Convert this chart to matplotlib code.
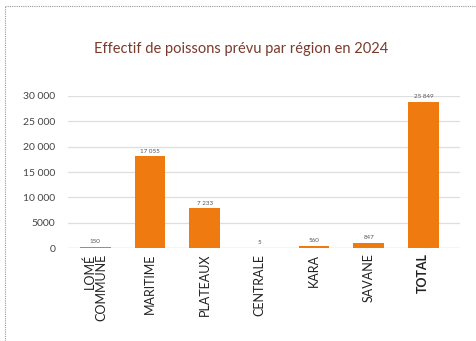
import matplotlib
matplotlib.use("Agg")
import matplotlib.pyplot as plt
from matplotlib.lines import Line2D

categories = ["LOMÉ\nCOMMUNE", "MARITIME", "PLATEAUX", "CENTRALE", "KARA", "SAVANE", "TOTAL"]
bar_values = [260, 18100, 7800, 60, 450, 1000, 28900]
value_labels = ["150", "17 055", "7 233", "5", "560", "847", "25 849"]
yticks = [0, 5000, 10000, 15000, 20000, 25000, 30000]
ytick_labels = ["0", "5000", "10 000", "15 000", "20 000", "25 000", "30 000"]
title = "Effectif de poissons prévu par région en 2024"

plt.rcParams['font.family'] = ['Lato', 'DejaVu Sans']

fig = plt.figure(figsize=(4.76, 3.41), dpi=100)
ax = fig.add_axes([68/476, 1 - 248/341, (460-68)/476, (248-96)/341])

orange = "#ee7a10"
x = list(range(len(categories)))
ax.bar(x, bar_values, width=0.56, color=orange, zorder=3)
for xi, v, lab in zip(x, bar_values, value_labels):
    ax.text(xi, v + 500, lab, ha="center", va="bottom", fontsize=4.5, color="#555555")

ax.set_ylim(0, 30000)
ax.set_xlim(-0.5, 6.67)
ax.set_yticks(yticks)
ax.set_yticklabels(ytick_labels, fontsize=7.5, color="#444444")
ax.yaxis.grid(True, color="#dedede", linewidth=0.9, zorder=0)
ax.tick_params(axis="y", length=0, pad=9)
ax.tick_params(axis="x", length=0, pad=4)
ax.set_xticks(x)
ax.set_xticklabels(categories, rotation=90, fontsize=9, color="#222222",
                   multialignment="right", linespacing=0.9)
ax.get_xticklabels()[-1].set_fontweight("bold")
for s in ax.spines.values():
    s.set_visible(False)
ax.axhline(0, color="#d4d4d4", linewidth=0.9, zorder=2)

fig.text(241/476, 1 - 49/341, title, ha="center", va="center", fontsize=10.5, color="#7a3a2c")

fig.add_artist(Line2D([5/476, 5/476], [0, 1 - 6/341], transform=fig.transFigure,
                      color="#999999", linestyle=(0, (1, 1)), linewidth=0.8))
fig.add_artist(Line2D([5/476, 1], [1 - 6/341, 1 - 6/341], transform=fig.transFigure,
                      color="#999999", linestyle=(0, (1, 1)), linewidth=0.8))

fig.savefig("out.png", dpi=100)
